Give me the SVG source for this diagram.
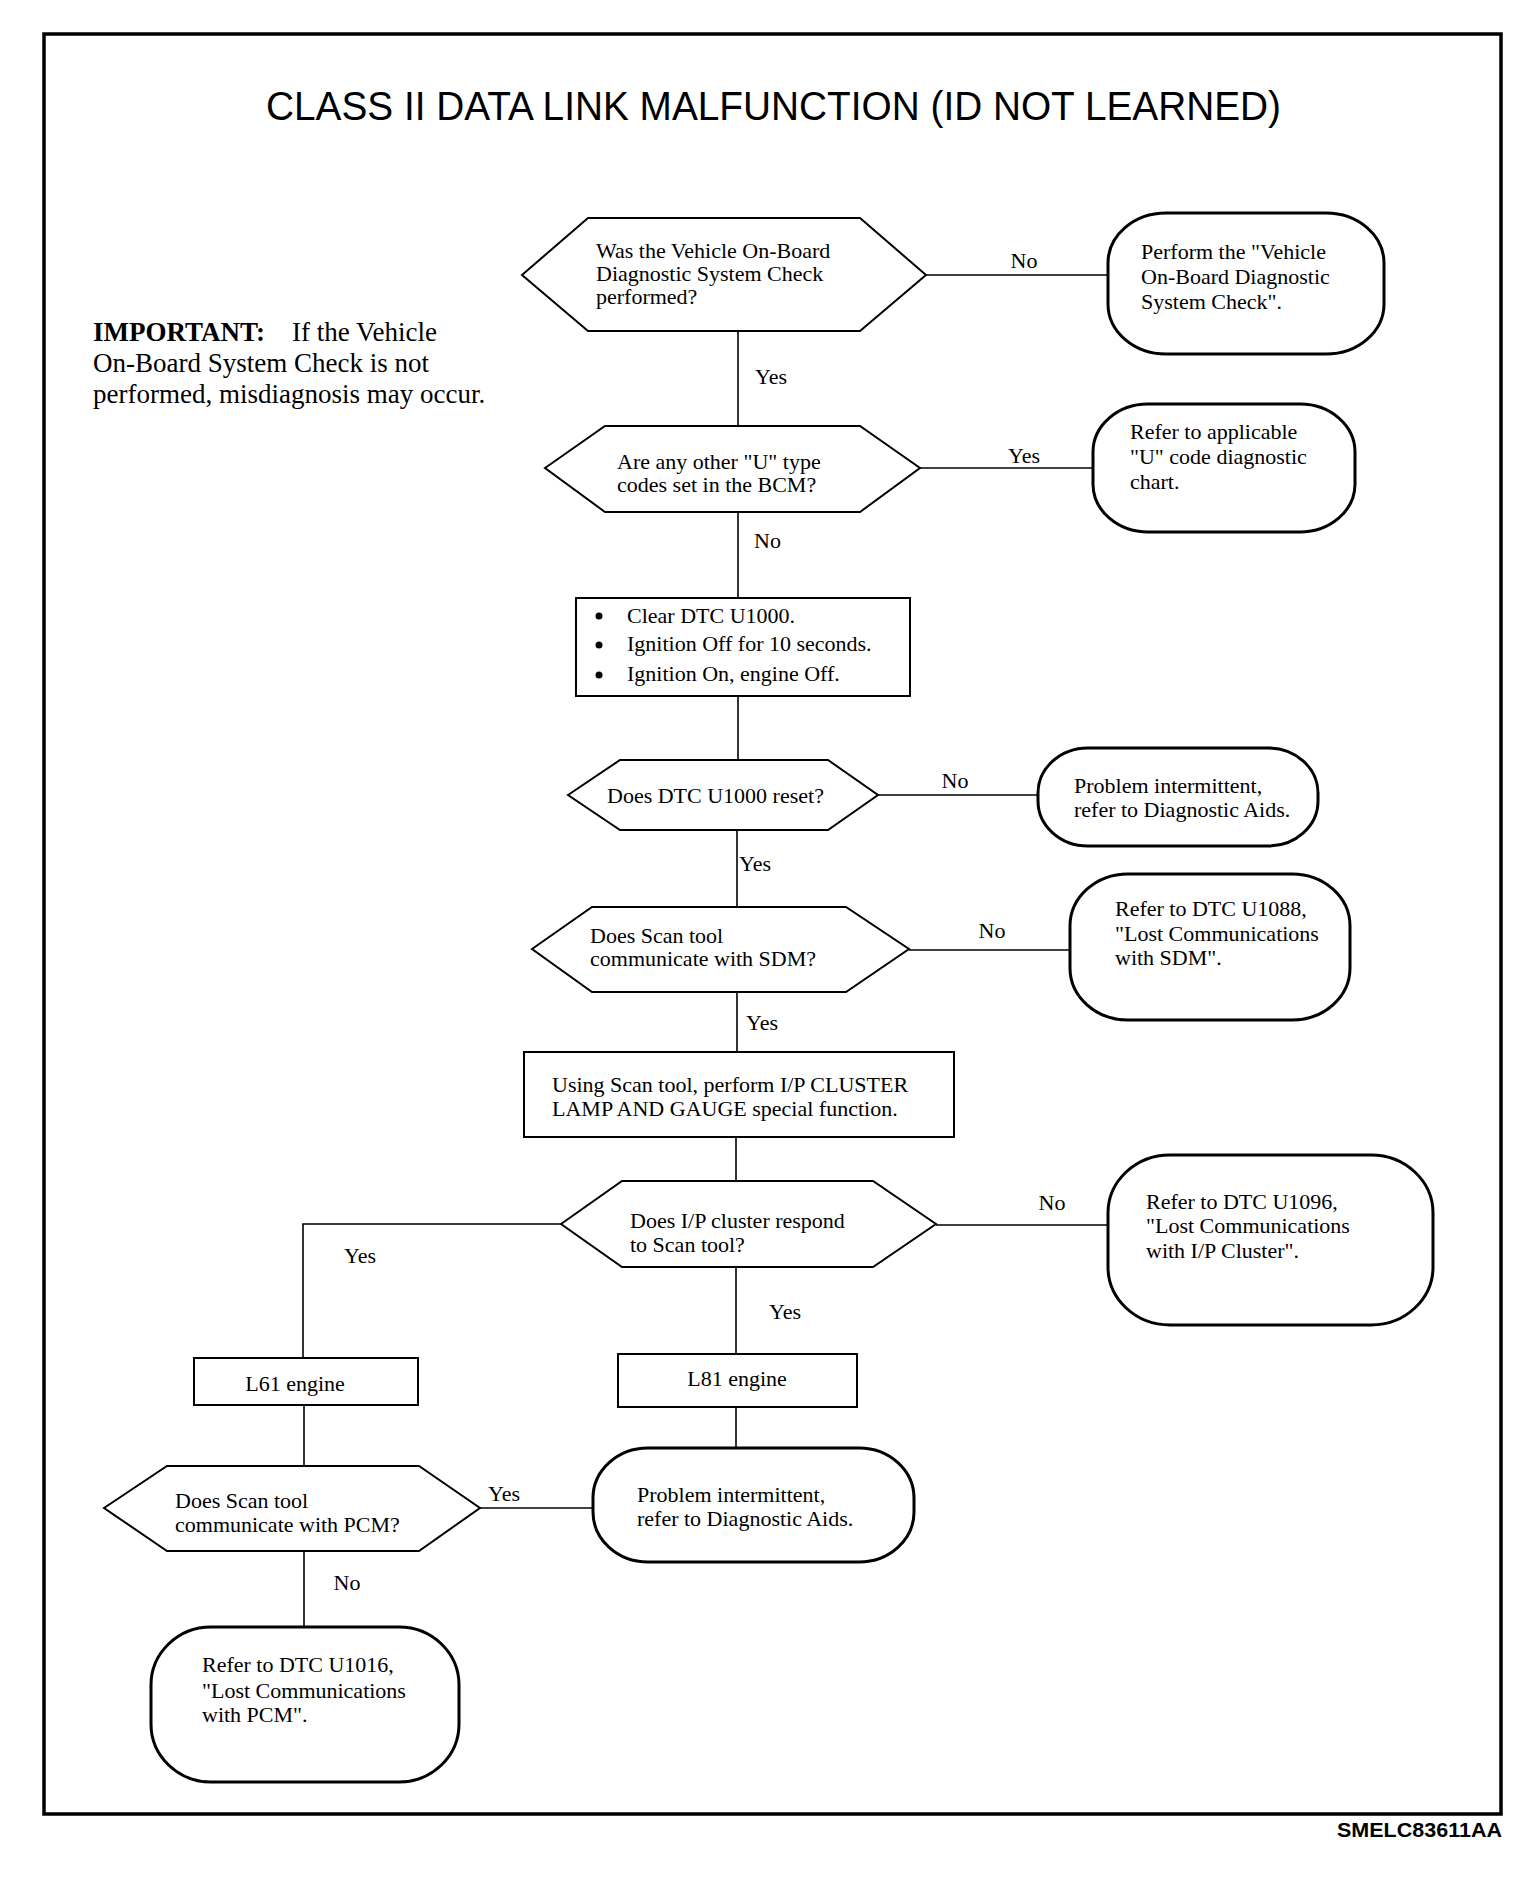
<svg xmlns="http://www.w3.org/2000/svg" width="1536" height="1878" viewBox="0 0 1536 1878">
<style>
.bg{fill:#fff}
.frame{fill:none;stroke:#000;stroke-width:3.5}
.dec{fill:#fff;stroke:#000;stroke-width:2}
.box{fill:#fff;stroke:#000;stroke-width:2}
.term{fill:#fff;stroke:#000;stroke-width:3}
.conn line,.conn polyline{fill:none;stroke:#000;stroke-width:1.6}
.t{font-family:"Liberation Serif","Times New Roman",serif;font-size:22px;fill:#000}
.imp{font-family:"Liberation Serif","Times New Roman",serif;font-size:27px;fill:#000}
.title{font-family:"Liberation Sans",Arial,sans-serif;font-size:40px;fill:#000}
.foot{font-family:"Liberation Sans",Arial,sans-serif;font-size:20px;font-weight:bold;fill:#000}
</style>
<rect class="bg" x="0" y="0" width="1536" height="1878"/>
<rect class="frame" x="44" y="34" width="1457" height="1780"/>
<text class="title" x="266" y="120" textLength="1015" lengthAdjust="spacingAndGlyphs">CLASS II DATA LINK MALFUNCTION (ID NOT LEARNED)</text>
<text class="foot" x="1502" y="1837" text-anchor="end" textLength="165" lengthAdjust="spacingAndGlyphs">SMELC83611AA</text>

<g id="important">
<text class="imp" x="93" y="341"><tspan font-weight="bold">IMPORTANT:</tspan><tspan x="292">If the Vehicle</tspan></text>
<text class="imp" x="93" y="372">On-Board System Check is not</text>
<text class="imp" x="93" y="403">performed, misdiagnosis may occur.</text>
</g>

<g id="connectors" class="conn">
<line x1="926" y1="275" x2="1108" y2="275"/>
<line x1="738" y1="331" x2="738" y2="426"/>
<line x1="920" y1="468" x2="1093" y2="468"/>
<line x1="738" y1="512" x2="738" y2="598"/>
<line x1="738" y1="696" x2="738" y2="760"/>
<line x1="878" y1="795" x2="1038" y2="795"/>
<line x1="737" y1="830" x2="737" y2="907"/>
<line x1="909" y1="950" x2="1070" y2="950"/>
<line x1="737" y1="992" x2="737" y2="1052"/>
<line x1="736" y1="1137" x2="736" y2="1181"/>
<line x1="936" y1="1225" x2="1108" y2="1225"/>
<line x1="736" y1="1267" x2="736" y2="1354"/>
<line x1="736" y1="1407" x2="736" y2="1448"/>
<polyline points="561,1224 303,1224 303,1358"/>
<line x1="304" y1="1405" x2="304" y2="1466"/>
<line x1="480" y1="1508" x2="593" y2="1508"/>
<line x1="304" y1="1551" x2="304" y2="1627"/>
<text class="t" x="1024" y="268" text-anchor="middle">No</text>
<text class="t" x="755" y="384">Yes</text>
<text class="t" x="1024" y="463" text-anchor="middle">Yes</text>
<text class="t" x="754" y="548">No</text>
<text class="t" x="955" y="788" text-anchor="middle">No</text>
<text class="t" x="739" y="871">Yes</text>
<text class="t" x="992" y="938" text-anchor="middle">No</text>
<text class="t" x="746" y="1030">Yes</text>
<text class="t" x="1052" y="1210" text-anchor="middle">No</text>
<text class="t" x="769" y="1319">Yes</text>
<text class="t" x="360" y="1263" text-anchor="middle">Yes</text>
<text class="t" x="504" y="1501" text-anchor="middle">Yes</text>
<text class="t" x="347" y="1590" text-anchor="middle">No</text>
</g>

<g id="q1">
<polygon class="dec" points="522,275 588,218 860,218 926,275 860,331 588,331"/>
<text class="t" x="596" y="258">Was the Vehicle On-Board</text>
<text class="t" x="596" y="281">Diagnostic System Check</text>
<text class="t" x="596" y="304">performed?</text>
</g>
<g id="r1">
<rect class="term" x="1108" y="213" width="276" height="141" rx="58" ry="50"/>
<text class="t" x="1141" y="259">Perform the "Vehicle</text>
<text class="t" x="1141" y="284">On-Board Diagnostic</text>
<text class="t" x="1141" y="309">System Check".</text>
</g>
<g id="q2">
<polygon class="dec" points="545,468 605,426 860,426 920,468 860,512 605,512"/>
<text class="t" x="617" y="469">Are any other "U" type</text>
<text class="t" x="617" y="492">codes set in the BCM?</text>
</g>
<g id="r2">
<rect class="term" x="1093" y="404" width="262" height="128" rx="55" ry="48"/>
<text class="t" x="1130" y="439">Refer to applicable</text>
<text class="t" x="1130" y="464">"U" code diagnostic</text>
<text class="t" x="1130" y="489">chart.</text>
</g>
<g id="s1">
<rect class="box" x="576" y="598" width="334" height="98"/>
<circle cx="599" cy="616" r="3.5"/>
<circle cx="599" cy="645" r="3.5"/>
<circle cx="599" cy="675" r="3.5"/>
<text class="t" x="627" y="623">Clear DTC U1000.</text>
<text class="t" x="627" y="651">Ignition Off for 10 seconds.</text>
<text class="t" x="627" y="681">Ignition On, engine Off.</text>
</g>
<g id="q3">
<polygon class="dec" points="568,795 620,760 828,760 878,795 828,830 620,830"/>
<text class="t" x="607" y="803">Does DTC U1000 reset?</text>
</g>
<g id="r3">
<rect class="term" x="1038" y="748" width="280" height="98" rx="50" ry="45"/>
<text class="t" x="1074" y="793">Problem intermittent,</text>
<text class="t" x="1074" y="817">refer to Diagnostic Aids.</text>
</g>
<g id="q4">
<polygon class="dec" points="532,949 592,907 846,907 909,949 846,992 592,992"/>
<text class="t" x="590" y="943">Does Scan tool</text>
<text class="t" x="590" y="966">communicate with SDM?</text>
</g>
<g id="r4">
<rect class="term" x="1070" y="874" width="280" height="146" rx="58" ry="52"/>
<text class="t" x="1115" y="916">Refer to DTC U1088,</text>
<text class="t" x="1115" y="941">"Lost Communications</text>
<text class="t" x="1115" y="965">with SDM".</text>
</g>
<g id="s2">
<rect class="box" x="524" y="1052" width="430" height="85"/>
<text class="t" x="552" y="1092">Using Scan tool, perform I/P CLUSTER</text>
<text class="t" x="552" y="1116">LAMP AND GAUGE special function.</text>
</g>
<g id="q5">
<polygon class="dec" points="561,1224 622,1181 873,1181 936,1224 873,1267 622,1267"/>
<text class="t" x="630" y="1228">Does I/P cluster respond</text>
<text class="t" x="630" y="1252">to Scan tool?</text>
</g>
<g id="r5">
<rect class="term" x="1108" y="1155" width="325" height="170" rx="62" ry="58"/>
<text class="t" x="1146" y="1209">Refer to DTC U1096,</text>
<text class="t" x="1146" y="1233">"Lost Communications</text>
<text class="t" x="1146" y="1258">with I/P Cluster".</text>
</g>
<g id="l81">
<rect class="box" x="618" y="1354" width="239" height="53"/>
<text class="t" x="737" y="1386" text-anchor="middle">L81 engine</text>
</g>
<g id="r6">
<rect class="term" x="593" y="1448" width="321" height="114" rx="55" ry="50"/>
<text class="t" x="637" y="1502">Problem intermittent,</text>
<text class="t" x="637" y="1526">refer to Diagnostic Aids.</text>
</g>
<g id="l61">
<rect class="box" x="194" y="1358" width="224" height="47"/>
<text class="t" x="295" y="1391" text-anchor="middle">L61 engine</text>
</g>
<g id="q6">
<polygon class="dec" points="104,1508 167,1466 419,1466 480,1508 419,1551 167,1551"/>
<text class="t" x="175" y="1508">Does Scan tool</text>
<text class="t" x="175" y="1532">communicate with PCM?</text>
</g>
<g id="r7">
<rect class="term" x="151" y="1627" width="308" height="155" rx="60" ry="58"/>
<text class="t" x="202" y="1672">Refer to DTC U1016,</text>
<text class="t" x="202" y="1698">"Lost Communications</text>
<text class="t" x="202" y="1722">with PCM".</text>
</g>
</svg>
